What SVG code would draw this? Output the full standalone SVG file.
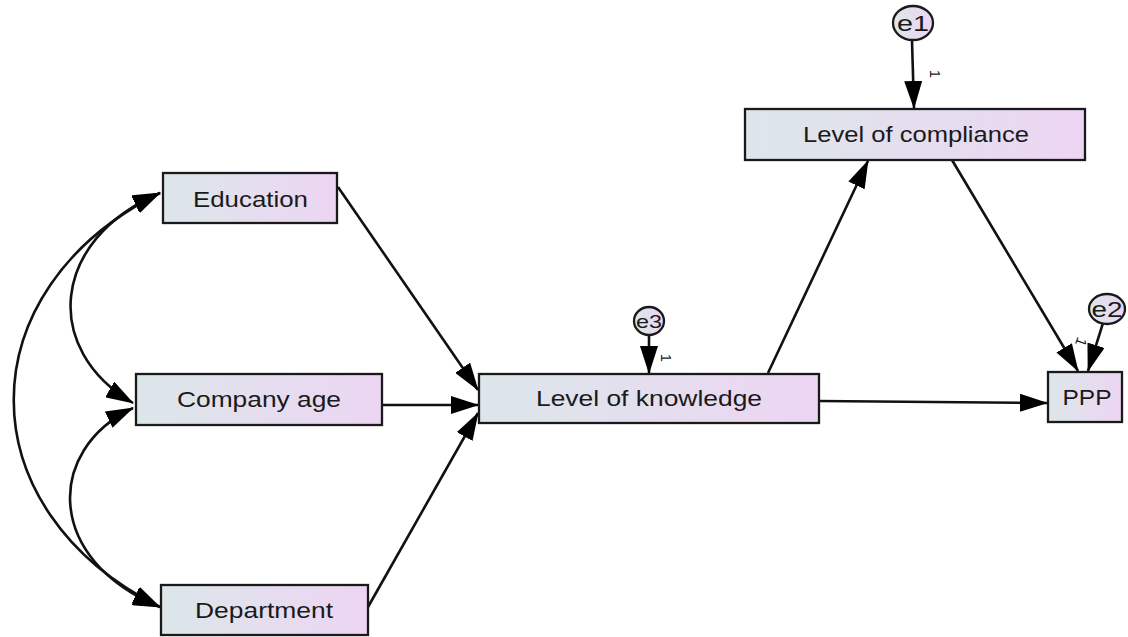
<svg xmlns="http://www.w3.org/2000/svg" width="1128" height="637" viewBox="0 0 1128 637">
<style>
.box{stroke:#1a1a1a;stroke-width:2.3;fill:url(#g)}
.err{stroke:#1a1a1a;stroke-width:2.3;fill:url(#g)}
.lbl{font-family:"Liberation Sans",Arial,sans-serif;font-size:22px;fill:#1a1a1a;text-anchor:middle}
.one{font-family:"Liberation Sans",Arial,sans-serif;font-size:15px;fill:#1a1a1a;text-anchor:middle}
.c{fill:none;stroke:#111;stroke-width:2.6}
.a{marker-end:url(#ah)}
.d{marker-start:url(#as);marker-end:url(#ah)}
</style>
<defs>
<linearGradient id="g" x1="0" y1="0" x2="1" y2="0">
<stop offset="0" stop-color="#dce7ea"/>
<stop offset="1" stop-color="#edd5f3"/>
</linearGradient>
<marker id="ah" markerUnits="userSpaceOnUse" viewBox="0 0 28 18" markerWidth="28" markerHeight="18" refX="27" refY="9" orient="auto">
<path d="M0,0 L28,9 L0,18 z" fill="#000"/>
</marker>
<marker id="as" markerUnits="userSpaceOnUse" viewBox="0 0 28 18" markerWidth="28" markerHeight="18" refX="27" refY="9" orient="auto-start-reverse">
<path d="M0,0 L28,9 L0,18 z" fill="#000"/>
</marker>
</defs>
<g id="connectors">
<path class="c d" d="M133,403 C42,350 50,240 160,193"/>
<path class="c d" d="M133,408 C45,450 45,560 160,607"/>
<path class="c d" d="M160,193 C-35,290 -35,510 160,607"/>
<path class="c a" d="M338,187 L478,390"/>
<path class="c a" d="M382,405 L478,405"/>
<path class="c a" d="M368,607 L478,413"/>
<path class="c a" d="M768,373 L868,161"/>
<path class="c a" d="M819,401 L1047,403"/>
<path class="c a" d="M952,160 L1078,371"/>
<path class="c a" d="M649,336 L649,373"/>
<path class="c a" d="M912,41 L914,108"/>
<path class="c a" d="M1103,323 L1088,371"/>
<text class="one" x="935" y="79" transform="rotate(90 935 74)">1</text>
<text class="one" x="666" y="363" transform="rotate(90 666 358)">1</text>
<text class="one" x="1081" y="347" transform="rotate(110 1081 342)">1</text>
</g>
<g id="education">
<rect class="box" x="163" y="173" width="174" height="50"/>
<text class="lbl" x="250.5" y="207" textLength="115" lengthAdjust="spacingAndGlyphs">Education</text>
</g>
<g id="company-age">
<rect class="box" x="136" y="374" width="246" height="51"/>
<text class="lbl" x="259" y="407" textLength="164" lengthAdjust="spacingAndGlyphs">Company age</text>
</g>
<g id="department">
<rect class="box" x="161" y="585" width="207" height="50"/>
<text class="lbl" x="264" y="618" textLength="138" lengthAdjust="spacingAndGlyphs">Department</text>
</g>
<g id="knowledge">
<rect class="box" x="479" y="374" width="340" height="49"/>
<text class="lbl" x="649" y="406" textLength="226" lengthAdjust="spacingAndGlyphs">Level of knowledge</text>
</g>
<g id="compliance">
<rect class="box" x="745" y="109" width="340" height="51"/>
<text class="lbl" x="916" y="142" textLength="226" lengthAdjust="spacingAndGlyphs">Level of compliance</text>
</g>
<g id="ppp">
<rect class="box" x="1048" y="372" width="74" height="50"/>
<text class="lbl" x="1087" y="405" textLength="49" lengthAdjust="spacingAndGlyphs">PPP</text>
</g>
<g id="e1">
<ellipse class="err" cx="913" cy="23" rx="20" ry="17"/>
<text class="lbl" x="913" y="31" textLength="32" lengthAdjust="spacingAndGlyphs">e1</text>
</g>
<g id="e3">
<ellipse class="err" cx="649" cy="321" rx="15" ry="14"/>
<text class="lbl" x="649" y="328" style="font-size:19px" textLength="26" lengthAdjust="spacingAndGlyphs">e3</text>
</g>
<g id="e2">
<ellipse class="err" cx="1107" cy="309" rx="18" ry="15"/>
<text class="lbl" x="1107" y="317" textLength="31" lengthAdjust="spacingAndGlyphs">e2</text>
</g>
</svg>
